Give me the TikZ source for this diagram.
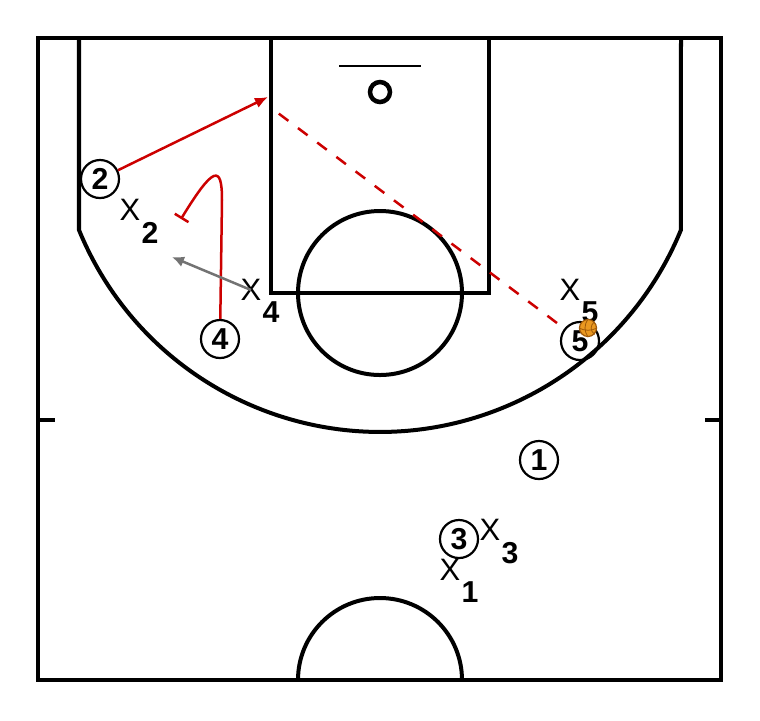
\documentclass[tikz,border=0pt]{standalone}
\usepackage{fontspec}
\setmainfont{Liberation Sans}
\usetikzlibrary{arrows.meta}
\definecolor{playred}{RGB}{204,0,0}
\definecolor{ballorange}{RGB}{234,152,32}
\definecolor{ballline}{RGB}{160,90,10}
\tikzset{
    court/.style={line width=0.04cm},
    player/.style={draw, circle, line width=0.022cm, minimum size=0.38cm, inner sep=0pt, font=\fontsize{8.6}{9}\selectfont\bfseries},
    defender/.style={inner sep=0pt, font=\fontsize{8.8}{9}\selectfont},
    defnum/.style={anchor=north west, inner sep=0pt, font=\fontsize{8.6}{9}\selectfont\bfseries},
    move/.style={playred, line width=0.025cm},
    ball/.style={draw=ballline, fill=ballorange, circle, line width=0.012cm, minimum size=0.17cm, inner sep=0pt}
}
\begin{document}
\begin{tikzpicture}[x=0.01cm, y=-0.01cm]
                \useasboundingbox (0,0) rectangle (760,720);
                
                \draw[court] (38,38) rectangle (721,680);
                \draw[court] (271,38) -- (271,293) -- (489,293) -- (489,38);
                \draw[court] (380,293) circle (82);
                \draw[court] (79,38) -- (79,230) arc[start angle=157.7, end angle=22.3, radius=325.3] -- (681,38);
                \draw[court] (298,680) arc[start angle=180, end angle=360, radius=82];
                \draw[court] (38,420) -- (55,420);
                \draw[court] (705,420) -- (721,420);
                \draw[line width=0.018cm] (339,66) -- (421,66);
                \draw[line width=0.045cm] (380,92) circle (10);
                
                \node[player] (p2) at (100,179) {2};
                \node[player] (p4) at (220,339) {4};
                \node[player] (p5) at (580,341) {5};
                \node[player] (p1) at (539,460) {1};
                \node[player] (p3) at (459,539) {3};
                
                \node[defender] (d2) at (130,210) {X};
                \node[defnum] at (d2.south east) {2};
                \node[defender] (d4) at (251,290) {X};
                \node[defnum] at (d4.south east) {4};
                \node[defender] (d5) at (570,290) {X};
                \node[defnum] at (d5.south east) {5};
                \node[defender] (d3) at (490,530) {X};
                \node[defnum] at (d3.south east) {3};
                \node[defender] (d1) at (450,570) {X};
                \node[defnum] at (d1.south east) {1};
                
                \coordinate (cut2) at (268,97);
                \coordinate (pass2) at (278,113);
                \coordinate (pass5) at (557,323);
                \coordinate (screen4) at (181,219);
                \coordinate (slide4) at (172,257);
                
                \draw[move, -{Latex[length=0.13cm, width=0.11cm]}] (p2) -- (cut2);
                \draw[move, dash pattern=on 0.12cm off 0.12cm] (pass5) -- (pass2);
                \draw[move, -{Bar[width=0.16cm]}] (p4) -- (222,200) .. controls (222,165) and (214,165) .. (screen4);
                \draw[black!55, line width=0.025cm, -{Latex[length=0.12cm, width=0.11cm]}] (d4.center) -- (slide4);
                
                \node[ball] (ball) at (588,328) {};
                \draw[ballline, line width=0.008cm] (ball.north) .. controls (584,325) and (584,331) .. (ball.south);
                \draw[ballline, line width=0.008cm] (ball.west) .. controls (585,331) and (591,331) .. (ball.east);
                \draw[ballline, line width=0.008cm] (ball.north east) .. controls (590,326) and (590,330) .. (ball.south east);
            \end{tikzpicture}
\end{document}
